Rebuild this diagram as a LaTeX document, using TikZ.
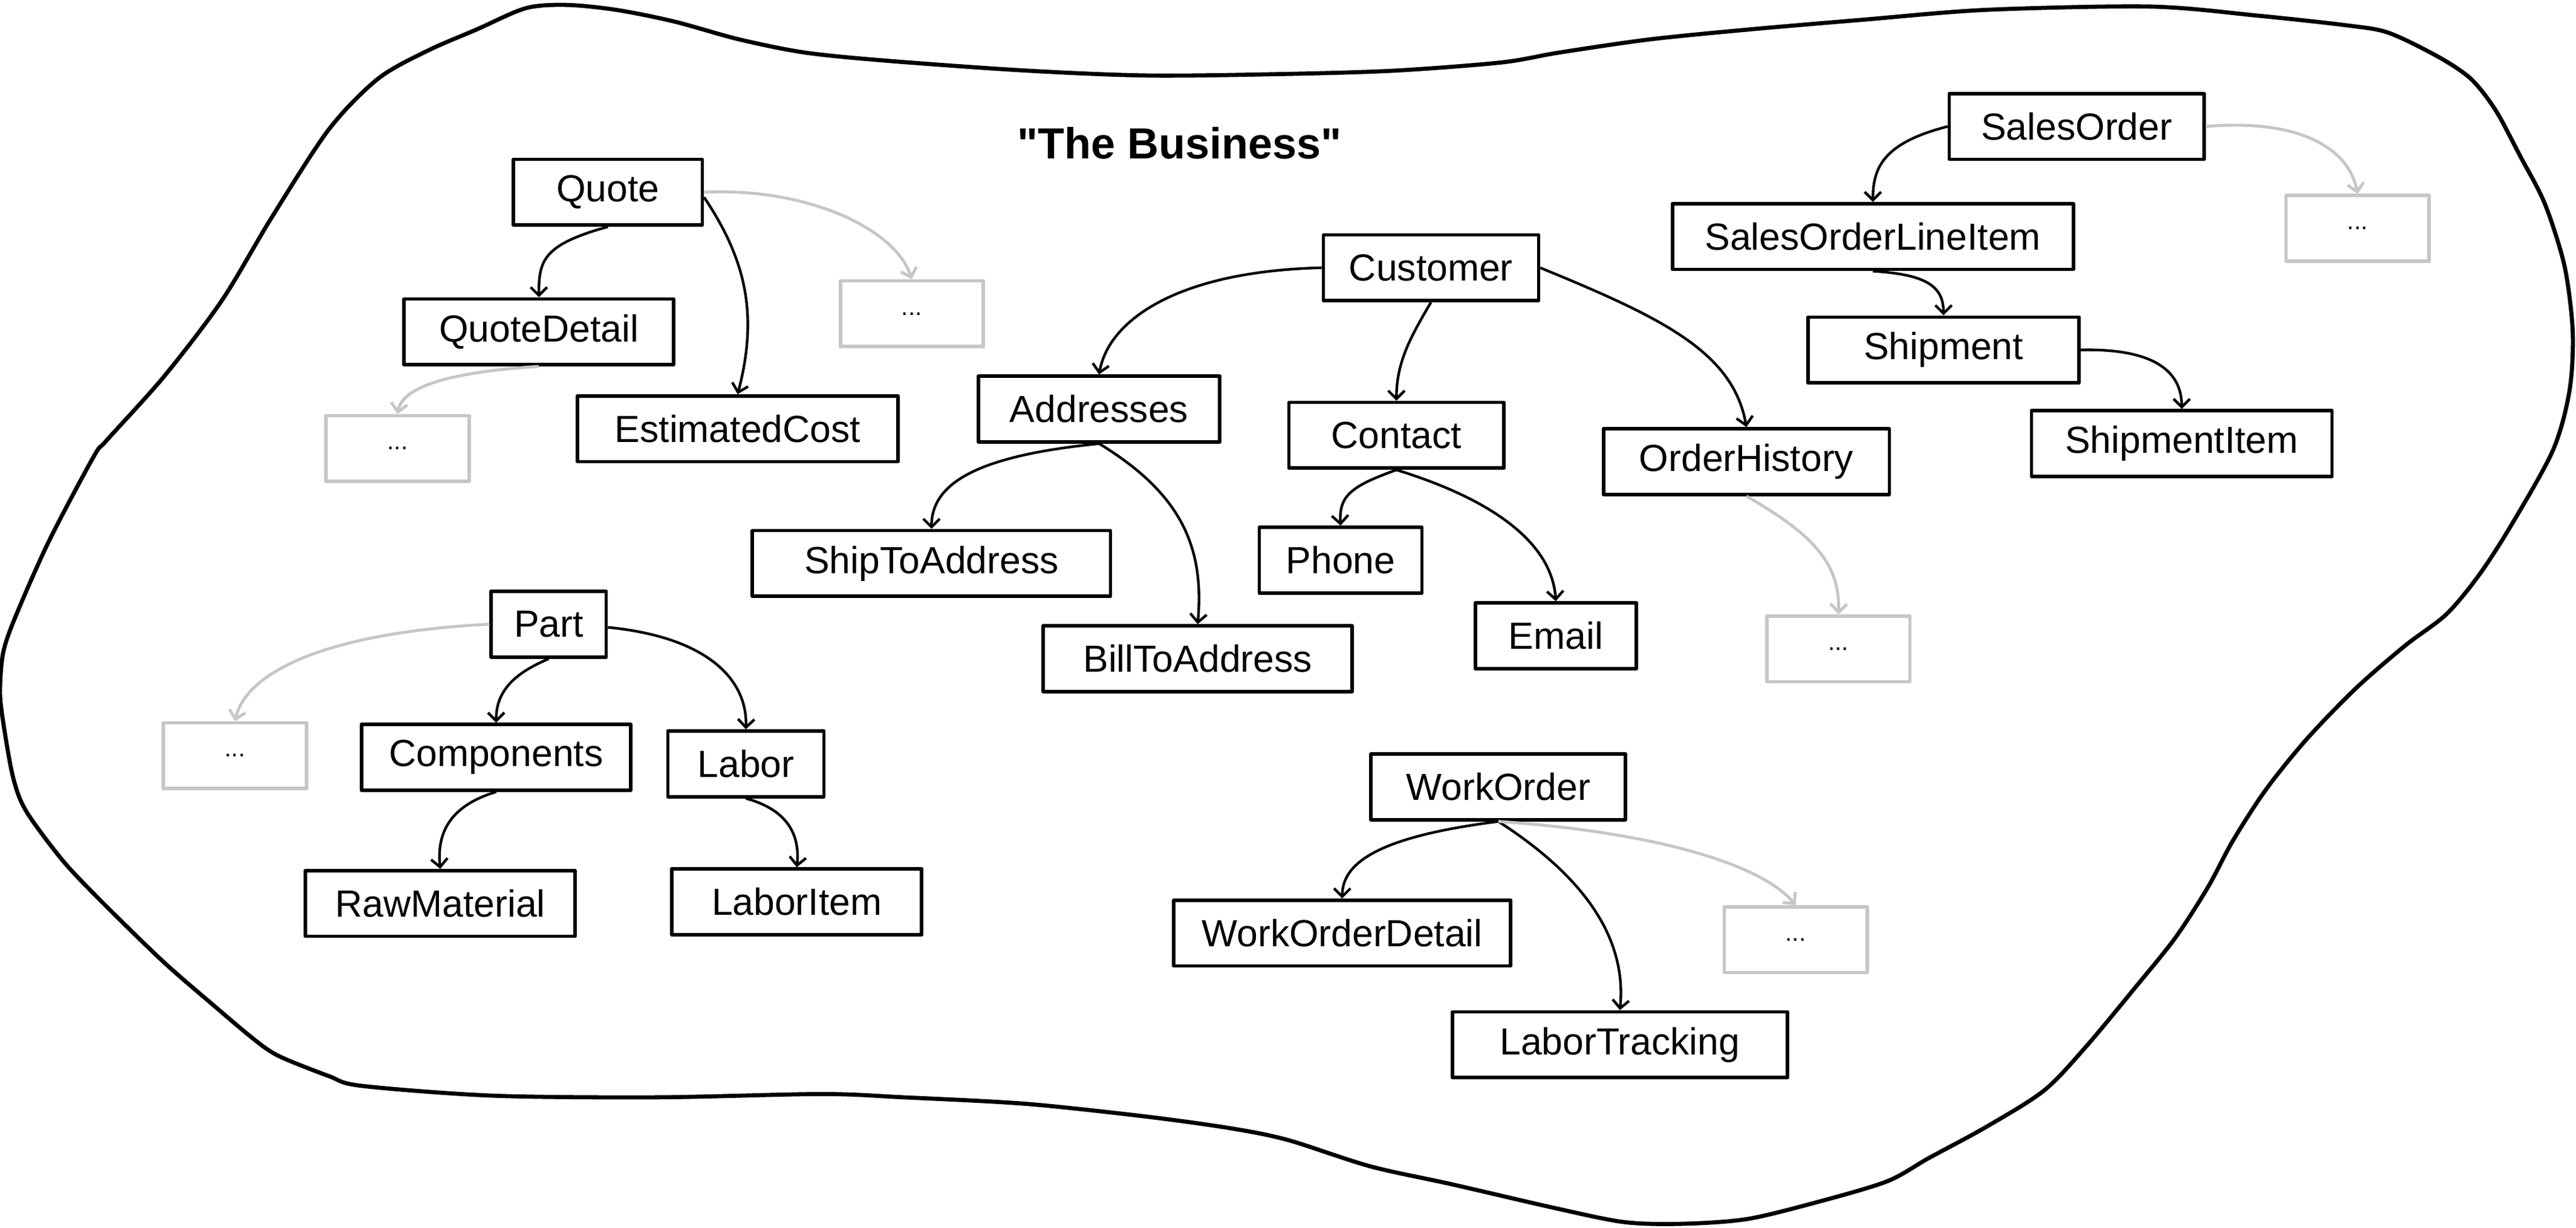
\documentclass[tikz,border=0pt]{standalone}
\usepackage{fontspec}
\setmainfont{Liberation Sans}
\newfontfamily\titlefont{Liberation Sans}[Ligatures=TeXOff]
\usetikzlibrary{arrows.meta,calc}
\definecolor{lightline}{HTML}{C6C6C6}
\begin{document}
\begin{tikzpicture}[x=1pt,y=-1pt,
  box/.style={draw, line width=2.1pt, minimum height=40pt, inner sep=0pt,
    font=\fontsize{23}{26}\selectfont, line join=round},
  ghost/.style={draw=lightline, line width=2.1pt, minimum height=40pt, minimum width=87pt,
    inner sep=0pt, font=\fontsize{15}{17}\selectfont, line join=round},
  conn/.style={line width=1.6pt, -{Straight Barb[length=5pt,width=10pt]}},
  gconn/.style={conn, draw=lightline, line width=1.8pt},
  blob/.style={line width=2.5pt, line join=round}]
\useasboundingbox (0,0) rectangle (1568,747.2);

% outer boundary
\draw[blob] plot[smooth cycle, tension=0.5] coordinates {
 (65,268) (100,229) (135,183) (165,133) (200,79) (230,48) (260,31) (290,18)
 (320,5) (345,3) (375,6) (410,13) (450,24) (490,32) (540,37) (625,43) (700,46)
 (784,45) (849,43) (914,38) (949,32) (1004,24) (1064,18) (1134,12) (1209,6)
 (1309,4) (1374,9.5) (1429,15.5) (1454,20) (1484,34.5) (1504,48) (1519,67)
 (1534,95) (1549,124) (1561,162) (1566,202) (1564,238) (1554,274) (1529,319)
 (1509,350) (1489,374) (1464,393) (1434,419) (1404,450) (1379,481) (1359,512)
 (1344,540) (1324,571) (1299,602) (1269,638) (1244,664) (1209,686) (1174,705)
 (1149,719) (1109,731) (1064,742) (1024,745) (989,744) (949,736) (884,721)
 (834,710) (784,694) (750,687) (700,680) (625,672) (550,668) (500,666)
 (400,668) (300,667) (220,661) (200,655) (170,643) (155,633) (130,612)
 (100,586) (65,552) (40,526) (20,500) (12,486) (7,469) (2,440) (0,421)
 (2,397) (10,374) (30,329) (57,278)};

% title
\node (title) at (718,87) {\titlefont\fontsize{26.5}{30}\selectfont\bfseries "The Business"};

% nodes
\node[box, minimum width=115pt] (quote) at (370,117) {Quote};
\node[box, minimum width=164pt] (qd) at (328,202) {QuoteDetail};
\node[ghost] (dA) at (555,191) {...};
\node[ghost] (dB) at (242,273) {...};
\node[box, minimum width=195pt] (ec) at (449,261) {EstimatedCost};
\node[box, minimum width=131pt] (cust) at (871,163) {Customer};
\node[box, minimum width=147pt] (addr) at (669,249) {Addresses};
\node[box, minimum width=131pt] (contact) at (850,265) {Contact};
\node[box, minimum width=174pt] (oh) at (1063,281) {OrderHistory};
\node[box, minimum width=218pt] (sta) at (567,343) {ShipToAddress};
\node[box, minimum width=188pt] (bta) at (729,401) {BillToAddress};
\node[box, minimum width=99pt] (phone) at (816,341) {Phone};
\node[box, minimum width=98pt] (email) at (947,387) {Email};
\node[ghost] (dC) at (1119,395) {...};
\node[box, minimum width=155pt] (so) at (1264,77) {SalesOrder};
\node[box, minimum width=244pt] (soli) at (1140,144) {SalesOrderLineItem};
\node[ghost] (dD) at (1435,139) {...};
\node[box, minimum width=165pt] (ship) at (1183,213) {Shipment};
\node[box, minimum width=183pt] (si) at (1328,270) {ShipmentItem};
\node[box, minimum width=70pt] (part) at (334,380) {Part};
\node[ghost] (dE) at (143,460) {...};
\node[box, minimum width=164pt] (comp) at (302,461) {Components};
\node[box, minimum width=95pt] (labor) at (454,465) {Labor};
\node[box, minimum width=164pt] (raw) at (268,550) {RawMaterial};
\node[box, minimum width=152pt] (li) at (485,549) {LaborItem};
\node[box, minimum width=155pt] (wo) at (912,479) {WorkOrder};
\node[box, minimum width=205pt] (wod) at (817,568) {WorkOrderDetail};
\node[ghost] (dF) at (1093,572) {...};
\node[box, minimum width=204pt] (lt) at (986,636) {LaborTracking};

% connectors
\draw[conn] (quote.south) .. controls +(-40,11) and +(0,-22) .. (qd.north);
\draw[conn] (quote.-3) .. controls +(27,40) and +(12,-46) .. (ec.north);
\draw[gconn] (quote.east) .. controls +(62,-3) and +(-10,-31) .. (dA.north);
\draw[gconn] (qd.south) .. controls +(-48,3) and +(3,-18) .. (dB.north);
\draw[conn] (cust.west) .. controls +(-86,2) and +(6,-34) .. (addr.north);
\draw[conn] (cust.south) .. controls +(-13,22) and +(0,-23) .. (contact.north);
\draw[conn] (cust.east) .. controls +(73,30) and +(-8,-46) .. (oh.north);
\draw[conn] (addr.south) .. controls +(-69,7) and +(0,-30) .. (sta.north);
\draw[conn] (addr.south) .. controls +(51,31) and +(4,-46) .. (bta.north);
\draw[conn] (contact.south) .. controls +(-28,10) and +(-1,-18) .. (phone.north);
\draw[conn] (contact.south) .. controls +(65,20) and +(-2,-32) .. (email.north);
\draw[gconn] (oh.south) .. controls +(42,24) and +(1,-30) .. (dC.north);
\draw[conn] (so.west) .. controls +(-39,10) and +(0,-21) .. (soli.north);
\draw[gconn] (so.east) .. controls +(58,-5) and +(-5,-27) .. (dD.north);
\draw[conn] (soli.south) .. controls +(32,2) and +(0,-18) .. (ship.north);
\draw[conn] (ship.east) .. controls +(46,-1) and +(0,-22) .. (si.north);
\draw[gconn] (part.west) .. controls +(-99,5) and +(7,-30) .. (dE.north);
\draw[conn] (part.south) .. controls +(-24,10) and +(0,-17) .. (comp.north);
\draw[conn] (part.-3) .. controls +(61,6) and +(1,-30) .. (labor.north);
\draw[conn] (comp.south) .. controls +(-30,9) and +(-2,-20) .. (raw.north);
\draw[conn] (labor.south) .. controls +(26,7) and +(2,-19) .. (li.north);
\draw[conn] (wo.south) .. controls +(-70,9) and +(0,-23) .. (wod.north);
\draw[conn] (wo.south) .. controls +(56,36) and +(4,-41) .. (lt.north);
\draw[gconn] (wo.south) .. controls +(88,6) and +(-23,-27) .. (dF.north);
\end{tikzpicture}
\end{document}
